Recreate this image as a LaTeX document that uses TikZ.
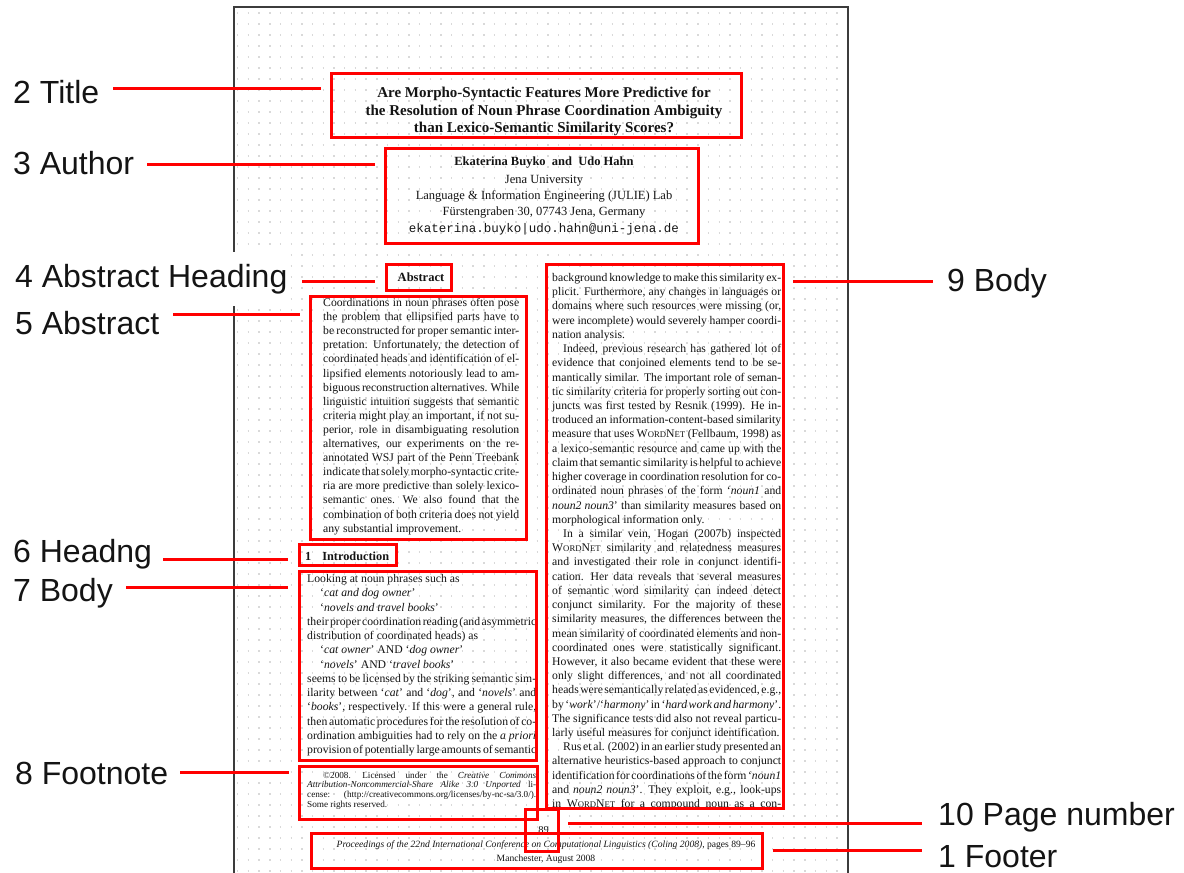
\documentclass[tikz,border=0pt]{standalone}
\usepackage{fontspec}
\setmainfont{Liberation Serif}
\setmonofont{Liberation Mono}
\newfontfamily\labfont{Liberation Sans}
\usetikzlibrary{fit}
\definecolor{boxred}{HTML}{FF0000}
\definecolor{pageedge}{HTML}{3C3C3C}
\definecolor{dotgray}{HTML}{D9D9D9}
\definecolor{inkc}{HTML}{141414}
\newcommand\jl[1]{\hbox to \hsize{\spaceskip=.25em plus 1fil minus .13em\xspaceskip=.4em plus 1fil minus .2em\relax #1}}
\newcommand\nl[1]{\hbox to \hsize{#1\hfil}}
\newcommand\cl[1]{\hbox to \hsize{\hfil#1\hfil}}
\newcommand\wnet{W{\fontsize{8.7}{10}\selectfont ORD}N{\fontsize{8.7}{10}\selectfont ET}}
\newcommand\bodyfont{\fontsize{11.7}{14.22}\selectfont}
\tikzset{
  rbox/.style={draw=boxred, line width=3pt, inner sep=0pt},
  conn/.style={draw=boxred, line width=3pt},
  lab/.style={font=\labfont\fontsize{32}{36}\selectfont, inner sep=0pt, anchor=base west, text=inkc},
  txt/.style={inner sep=0pt, anchor=base west, text=inkc},
  ctxt/.style={inner sep=0pt, anchor=base, text=inkc},
  pageline/.style={draw=pageedge, line width=1.3pt},
  dotrow/.style={draw=dotgray, line width=1.4pt, dash pattern=on 1.4pt off 9.3pt}
}
\begin{document}
\begin{tikzpicture}[x=1pt,y=-1pt]
\useasboundingbox (0,0) rectangle (1184,873);
\fill[white] (0,0) rectangle (1184,873);
% page background dots
\foreach \j in {0,...,78} \draw[dotrow] (237,13+\j*11) -- (846,13+\j*11);
% page edges
\draw[pageline] (234,873) -- (234,7) -- (848,7) -- (848,873);

% ---- page texts ----
\node[ctxt] (titletext) at (544,97.5) {\vtop{\hsize=420pt\fontsize{15}{17.5}\selectfont\bfseries
\cl{Are Morpho-Syntactic Features More Predictive for}
\cl{the Resolution of Noun Phrase Coordination Ambiguity}
\cl{than Lexico-Semantic Similarity Scores?}}};

\node[ctxt] (authortext) at (544,165.5) {\vtop{\hsize=300pt\fontsize{12.5}{16}\selectfont
\cl{\bfseries Ekaterina Buyko\ \ and\ \ Udo Hahn}\vskip1.5pt
\cl{Jena University}
\cl{Language \& Information Engineering (JULIE) Lab}
\cl{Fürstengraben 30, 07743 Jena, Germany}\vskip1pt
\cl{\ttfamily ekaterina.buyko|udo.hahn@uni-jena.de}}};

\node[ctxt] (abshtext) at (421,281) {\fontsize{12.5}{14}\selectfont\bfseries Abstract};

\node[txt] (abstext) at (323,306.5) {\vtop{\hsize=196pt\bodyfont\fontsize{11.7}{14.1}\selectfont
\jl{Coordinations in noun phrases often pose}
\jl{the problem that ellipsified parts have to}
\jl{be reconstructed for proper semantic inter-}
\jl{pretation. Unfortunately, the detection of}
\jl{coordinated heads and identification of el-}
\jl{lipsified elements notoriously lead to am-}
\jl{biguous reconstruction alternatives. While}
\jl{linguistic intuition suggests that semantic}
\jl{criteria might play an important, if not su-}
\jl{perior, role in disambiguating resolution}
\jl{alternatives, our experiments on the re-}
\jl{annotated WSJ part of the Penn Treebank}
\jl{indicate that solely morpho-syntactic crite-}
\jl{ria are more predictive than solely lexico-}
\jl{semantic ones. We also found that the}
\jl{combination of both criteria does not yield}
\nl{any substantial improvement.}}};

\node[txt] (headtext) at (305,560) {\fontsize{12.3}{14}\selectfont\bfseries 1\hspace{11pt}Introduction};

\begin{scope}
\clip (300,565) rectangle (536,765);
\node[txt] (body7text) at (307,582.5) {\vtop{\hsize=229pt\bodyfont\fontsize{11.7}{14.25}\selectfont
\nl{Looking at noun phrases such as}
\nl{\kern13pt`\textit{cat and dog owner}'}
\nl{\kern13pt`\textit{novels and travel books}'}
\jl{their proper coordination reading (and asymmetric}
\nl{distribution of coordinated heads) as}
\nl{\kern13pt`\textit{cat owner}' AND `\textit{dog owner}'}
\nl{\kern13pt`\textit{novels}' AND `\textit{travel books}'}
\jl{seems to be licensed by the striking semantic sim-}
\jl{ilarity between `\textit{cat}' and `\textit{dog}', and `\textit{novels}' and}
\jl{`\textit{books}', respectively. If this were a general rule,}
\jl{then automatic procedures for the resolution of co-}
\jl{ordination ambiguities had to rely on the \textit{a priori}}
\jl{provision of potentially large amounts of semantic}}};
\end{scope}

\node[txt] (foottext) at (307,778) {\vtop{\hsize=229pt\fontsize{9.2}{9.7}\selectfont
\jl{\kern16pt\textcopyright2008. Licensed under the \textit{Creative Commons}}
\jl{\textit{Attribution-Noncommercial-Share Alike 3.0 Unported} li-}
\jl{cense: (http://creativecommons.org/licenses/by-nc-sa/3.0/).}
\nl{Some rights reserved.}}};

\node[txt] (body9text) at (552,281.5) {\vtop{\hsize=229pt\bodyfont
\jl{background knowledge to make this similarity ex-}
\jl{plicit. Furthermore, any changes in languages or}
\jl{domains where such resources were missing (or,}
\jl{were incomplete) would severely hamper coordi-}
\nl{nation analysis.}
\jl{\kern11pt Indeed, previous research has gathered lot of}
\jl{evidence that conjoined elements tend to be se-}
\jl{mantically similar. The important role of seman-}
\jl{tic similarity criteria for properly sorting out con-}
\jl{juncts was first tested by Resnik (1999). He in-}
\jl{troduced an information-content-based similarity}
\jl{measure that uses \wnet{} (Fellbaum, 1998) as}
\jl{a lexico-semantic resource and came up with the}
\jl{claim that semantic similarity is helpful to achieve}
\jl{higher coverage in coordination resolution for co-}
\jl{ordinated noun phrases of the form `\textit{noun1} and}
\jl{\textit{noun2 noun3}' than similarity measures based on}
\nl{morphological information only.}
\jl{\kern11pt In a similar vein, Hogan (2007b) inspected}
\jl{\wnet{} similarity and relatedness measures}
\jl{and investigated their role in conjunct identifi-}
\jl{cation. Her data reveals that several measures}
\jl{of semantic word similarity can indeed detect}
\jl{conjunct similarity. For the majority of these}
\jl{similarity measures, the differences between the}
\jl{mean similarity of coordinated elements and non-}
\jl{coordinated ones were statistically significant.}
\jl{However, it also became evident that these were}
\jl{only slight differences, and not all coordinated}
\jl{heads were semantically related as evidenced, e.g.,}
\jl{by `\textit{work}'/`\textit{harmony}' in `\textit{hard work and harmony}'.}
\jl{The significance tests did also not reveal particu-}
\nl{larly useful measures for conjunct identification.}
\jl{\kern11pt Rus et al. (2002) in an earlier study presented an}
\jl{alternative heuristics-based approach to conjunct}
\jl{identification for coordinations of the form `\textit{noun1}}
\jl{and \textit{noun2 noun3}'. They exploit, e.g., look-ups}
\jl{in \wnet{} for a compound noun as a con-}}};

\node[ctxt] (pnumtext) at (543.5,833) {\fontsize{10.5}{12}\selectfont 89};

\node[ctxt] (footertext) at (546,847) {\vtop{\hsize=460pt\fontsize{9.6}{14}\selectfont
\cl{\textit{Proceedings of the 22nd International Conference on Computational Linguistics (Coling 2008)}, pages 89--96}
\cl{Manchester, August 2008}}};

% ---- labels ----
\node[lab] (l2) at (13,103) {2 Title};
\node[lab] (l3) at (13,174) {3 Author};
\node[lab, fill=white, inner xsep=2pt, inner ysep=12pt] (l4) at (13,287) {4 Abstract Heading};
\node[lab] (l5) at (15,334) {5 Abstract};
\node[lab] (l6) at (13,562) {6 Headng};
\node[lab] (l7) at (13,601) {7 Body};
\node[lab] (l8) at (15,784) {8 Footnote};
\node[lab] (l9) at (947,291) {9 Body};
\node[lab] (l10) at (938,825) {10 Page number};
\node[lab] (l1) at (938,867) {1 Footer};

% ---- red boxes ----
\node[rbox, fit={(331,73) (741,137)}] (btitle) {};
\node[rbox, fit={(385,148) (698,243)}] (bauthor) {};
\node[rbox, fit={(386,264) (451,290)}] (babsh) {};
\node[rbox, fit={(310,296) (526,539)}] (babs) {};
\node[rbox, fit={(299,544) (396,565)}] (bhead) {};
\node[rbox, fit={(299,571) (536,760)}] (bbody7) {};
\node[rbox, fit={(299,766) (537,819)}] (bfoot) {};
\node[rbox, fit={(546,264) (783,808)}] (bbody9) {};
\node[rbox, fit={(525,809) (558,851)}] (bpnum) {};
\node[rbox, fit={(311,833) (762,868)}] (bfooter) {};

% ---- connectors ----
\coordinate (c2a) at (113,88);  \coordinate (c2b) at (321,88);
\coordinate (c3a) at (147,164); \coordinate (c3b) at (375,164);
\coordinate (c4a) at (302,281); \coordinate (c4b) at (375,281);
\coordinate (c5a) at (173,314); \coordinate (c5b) at (300,314);
\coordinate (c6a) at (163,559); \coordinate (c6b) at (288,559);
\coordinate (c7a) at (126,587); \coordinate (c7b) at (288,587);
\coordinate (c8a) at (180,772); \coordinate (c8b) at (289,772);
\coordinate (c9a) at (793,281); \coordinate (c9b) at (933,281);
\coordinate (c10a) at (568,823); \coordinate (c10b) at (922,823);
\coordinate (c1a) at (773,850); \coordinate (c1b) at (922,850);
\draw[conn] (c2a) -- (c2b);
\draw[conn] (c3a) -- (c3b);
\draw[conn] (c4a) -- (c4b);
\draw[conn] (c5a) -- (c5b);
\draw[conn] (c6a) -- (c6b);
\draw[conn] (c7a) -- (c7b);
\draw[conn] (c8a) -- (c8b);
\draw[conn] (c9a) -- (c9b);
\draw[conn] (c10a) -- (c10b);
\draw[conn] (c1a) -- (c1b);
\end{tikzpicture}
\end{document}
